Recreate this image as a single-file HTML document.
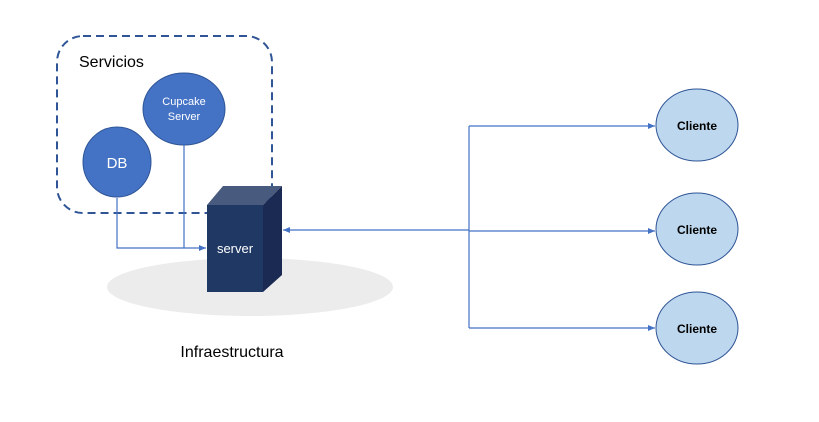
<!DOCTYPE html>
<html><head><meta charset="utf-8"><style>
html,body{margin:0;padding:0;background:#fff;width:819px;height:422px;overflow:hidden}
svg{display:block;font-family:"Liberation Sans",sans-serif}
</style></head><body>
<svg width="819" height="422" viewBox="0 0 819 422" xmlns="http://www.w3.org/2000/svg">
<defs>
<marker id="a" markerWidth="8" markerHeight="8" refX="7" refY="4" orient="auto" markerUnits="userSpaceOnUse">
<path d="M0,1 L7,4 L0,7 Z" fill="#4472c4"/></marker>
</defs>
<ellipse cx="250" cy="287" rx="143" ry="29" fill="#ececec"/>
<rect x="57" y="36" width="215" height="177" rx="26" fill="none" stroke="#2f5597" stroke-width="2" stroke-dasharray="8,5"/>
<text x="79" y="67" font-size="16" fill="#000">Servicios</text>
<ellipse cx="184" cy="109" rx="41" ry="36" fill="#4472c4" stroke="#2f5597"/>
<text x="184" y="105" font-size="11" fill="#fff" text-anchor="middle">Cupcake</text>
<text x="184" y="120" font-size="11" fill="#fff" text-anchor="middle">Server</text>
<ellipse cx="117" cy="162" rx="34" ry="35" fill="#4472c4" stroke="#2f5597"/>
<text x="117" y="168" font-size="15" fill="#fff" text-anchor="middle">DB</text>
<polyline points="117,198 117,248 206,248" fill="none" stroke="#4472c4" stroke-width="1.2" marker-end="url(#a)"/>
<line x1="184" y1="145" x2="184" y2="248" stroke="#4472c4" stroke-width="1.2"/>
<polygon points="207,205 223,186 282,186 263,205" fill="#485a7d"/>
<polygon points="263,205 282,186 282,275 263,292" fill="#1a2a52"/>
<rect x="207" y="205" width="56" height="87" fill="#203864"/>
<text x="235" y="253" font-size="13" fill="#fff" text-anchor="middle">server</text>
<line x1="469" y1="230" x2="283" y2="230" stroke="#4472c4" stroke-width="1.2" marker-end="url(#a)"/>
<line x1="469" y1="126" x2="469" y2="328" stroke="#4472c4" stroke-width="1.2"/>
<line x1="469" y1="126" x2="655" y2="126" stroke="#4472c4" stroke-width="1.2" marker-end="url(#a)"/>
<line x1="469" y1="231" x2="655" y2="231" stroke="#4472c4" stroke-width="1.2" marker-end="url(#a)"/>
<line x1="469" y1="328" x2="655" y2="328" stroke="#4472c4" stroke-width="1.2" marker-end="url(#a)"/>
<g fill="#bdd7ee" stroke="#2f5597">
<ellipse cx="697" cy="125" rx="41" ry="36"/>
<ellipse cx="697" cy="229" rx="41" ry="36"/>
<ellipse cx="697" cy="328" rx="41" ry="36"/>
</g>
<g font-size="12" font-weight="bold" fill="#000" text-anchor="middle">
<text x="697" y="130">Cliente</text>
<text x="697" y="234">Cliente</text>
<text x="697" y="333">Cliente</text>
</g>
<text x="232" y="357" font-size="16" fill="#000" text-anchor="middle">Infraestructura</text>
</svg>
</body></html>
